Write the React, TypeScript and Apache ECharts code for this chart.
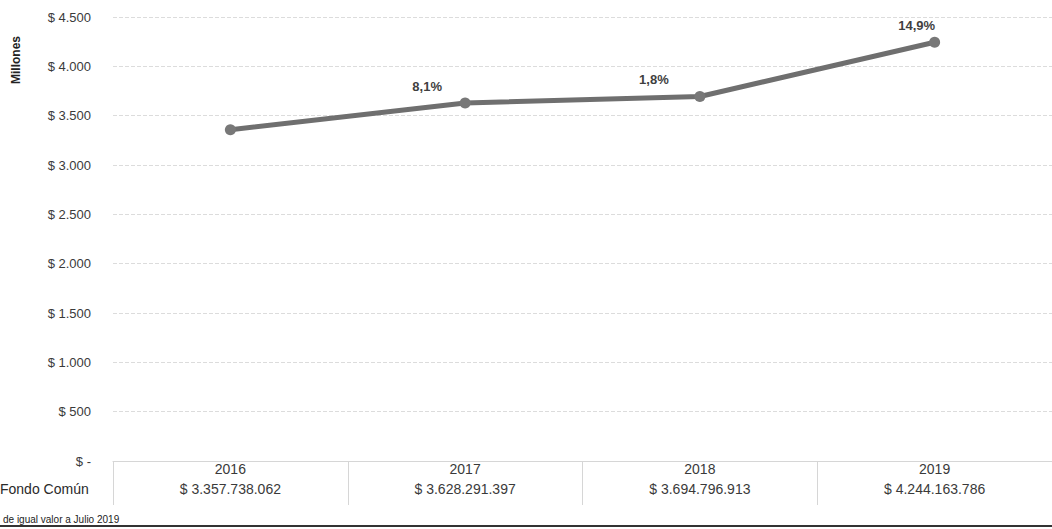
import React, { useEffect, useRef } from "react";
import * as echarts from "echarts";

const years = ["2016", "2017", "2018", "2019"];
const fondoComun = [3357738062, 3628291397, 3694796913, 4244163786];
const growthLabels = ["", "8,1%", "1,8%", "14,9%"];
const labelShiftX = [0, -38, -46, -18];
const rowLabel = "Fondo Común";
const yAxisTitle = "Millones";
const footnote = "de igual valor a Julio 2019";

const fmtThousands = (n: number) =>
  Math.round(n).toString().replace(/\B(?=(\d{3})+(?!\d))/g, ".");

export default function App() {
  const ref = useRef<HTMLDivElement>(null);
  useEffect(() => {
    if (!ref.current) return;
    const chart = echarts.init(ref.current, undefined, { renderer: "svg" });
    const font = "'Liberation Sans', Arial, sans-serif";
    const valueLabels = fondoComun.map((v) => "$ " + fmtThousands(v));
    chart.setOption({
      animation: false,
      backgroundColor: "#ffffff",
      textStyle: { fontFamily: font },
      grid: { left: 113, right: 0, top: 17, bottom: 68 },
      xAxis: {
        type: "category",
        data: years,
        boundaryGap: true,
        axisLine: { lineStyle: { color: "#d6d6d6", width: 1 } },
        axisTick: { show: true, length: 44, lineStyle: { color: "#d6d6d6" } },
        axisLabel: {
          margin: 0,
          formatter: (val: string, idx: number) =>
            "{y|" + val + "}\n{v|" + valueLabels[idx] + "}",
          rich: {
            y: { fontSize: 14, color: "#3a3a3a", lineHeight: 16, fontFamily: font },
            v: { fontSize: 14, color: "#3a3a3a", lineHeight: 24, fontFamily: font },
          },
        },
      },
      yAxis: {
        type: "value",
        min: 0,
        max: 4500,
        interval: 500,
        axisLine: { show: false },
        axisTick: { show: false },
        splitLine: { lineStyle: { color: "#dcdcdc", type: [4, 2] } },
        axisLabel: {
          margin: 22,
          color: "#3a3a3a",
          fontSize: 13,
          fontFamily: font,
          formatter: (v: number) => (v === 0 ? "$ -" : "$ " + fmtThousands(v)),
        },
      },
      series: [
        {
          type: "line",
          data: fondoComun.map((v, i) => ({
            value: v / 1e6,
            label: {
              show: growthLabels[i] !== "",
              formatter: growthLabels[i],
              offset: [labelShiftX[i], 0],
            },
          })),
          symbol: "circle",
          symbolSize: 11,
          lineStyle: { color: "#6f6f6f", width: 5 },
          itemStyle: { color: "#787878" },
          label: {
            position: "top",
            distance: 5,
            fontSize: 13,
            fontWeight: "bold",
            color: "#3f3f3f",
            fontFamily: font,
          },
        },
      ],
      graphic: [
        {
          type: "text",
          left: 10,
          top: 36,
          rotation: Math.PI / 2,
          style: {
            text: yAxisTitle,
            fontSize: 12,
            fontWeight: "bold",
            fill: "#222",
            fontFamily: font,
          },
        },
        {
          type: "text",
          left: 0,
          top: 482,
          style: { text: rowLabel, fontSize: 14, fill: "#2a2a2a", fontFamily: font },
        },
        {
          type: "text",
          left: 3,
          top: 514,
          style: { text: footnote, fontSize: 10, fill: "#222", fontFamily: font },
        },
        {
          type: "line",
          shape: { x1: 0, y1: 526, x2: 1052, y2: 526 },
          style: { stroke: "#333", lineWidth: 2 },
        },
      ],
    });
    return () => chart.dispose();
  }, []);
  return (
    <div
      ref={ref}
      style={{ position: "fixed", left: 0, top: 0, width: 1052, height: 529 }}
    />
  );
}
